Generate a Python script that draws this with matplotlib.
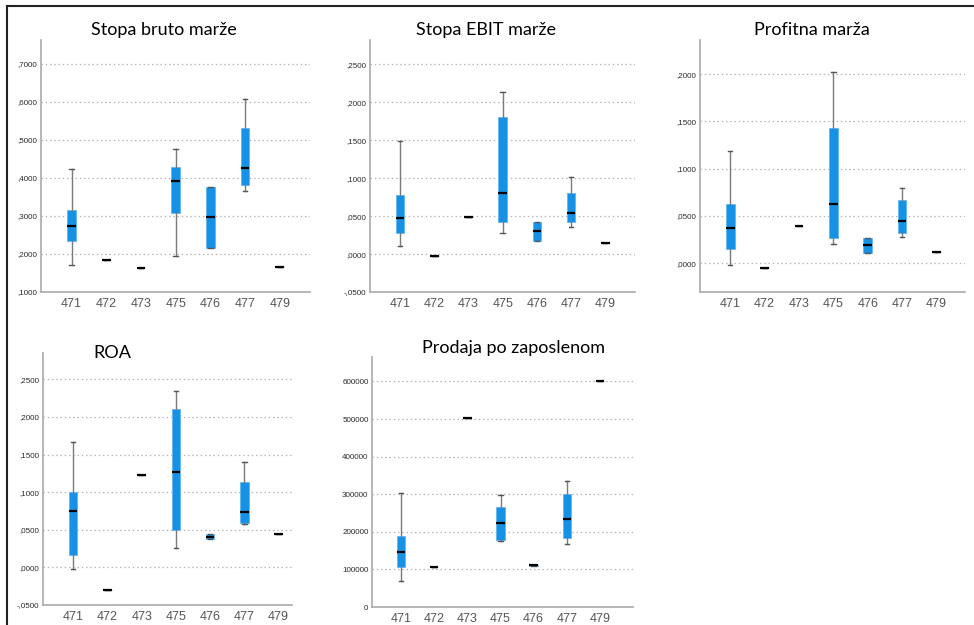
import matplotlib
matplotlib.use("Agg")
import matplotlib.pyplot as plt
from matplotlib.lines import Line2D

W, H = 974, 625

categories = ["471", "472", "473", "475", "476", "477", "479"]

# five-number summaries per category: (whisker low, Q1, median, Q3, whisker high)
bruto = [
    (0.172, 0.235, 0.274, 0.316, 0.423),
    (0.183, 0.183, 0.183, 0.183, 0.183),
    (0.163, 0.163, 0.163, 0.163, 0.163),
    (0.194, 0.309, 0.391, 0.428, 0.476),
    (0.217, 0.217, 0.297, 0.376, 0.376),
    (0.365, 0.381, 0.426, 0.532, 0.609),
    (0.167, 0.167, 0.167, 0.167, 0.167),
]
ebit = [
    (0.0105, 0.0281, 0.0479, 0.0782, 0.1485),
    (-0.0030, -0.0030, -0.0030, -0.0030, -0.0030),
    (0.0488, 0.0488, 0.0488, 0.0488, 0.0488),
    (0.0281, 0.0418, 0.0800, 0.1810, 0.2139),
    (0.0176, 0.0176, 0.0299, 0.0418, 0.0418),
    (0.0360, 0.0426, 0.0537, 0.0800, 0.1015),
    (0.0146, 0.0146, 0.0146, 0.0146, 0.0146),
]
profit = [
    (-0.0018, 0.0148, 0.0370, 0.0623, 0.1190),
    (-0.0050, -0.0050, -0.0050, -0.0050, -0.0050),
    (0.0390, 0.0390, 0.0390, 0.0390, 0.0390),
    (0.0207, 0.0270, 0.0630, 0.1432, 0.2024),
    (0.0112, 0.0112, 0.0193, 0.0270, 0.0270),
    (0.0278, 0.0317, 0.0447, 0.0665, 0.0799),
    (0.0116, 0.0116, 0.0116, 0.0116, 0.0116),
]
roa = [
    (-0.0019, 0.0168, 0.0754, 0.1007, 0.1664),
    (-0.0302, -0.0302, -0.0302, -0.0302, -0.0302),
    (0.1229, 0.1229, 0.1229, 0.1229, 0.1229),
    (0.0257, 0.0497, 0.1269, 0.2103, 0.2350),
    (0.0373, 0.0373, 0.0408, 0.0448, 0.0448),
    (0.0580, 0.0586, 0.0736, 0.1131, 0.1402),
    (0.0448, 0.0448, 0.0448, 0.0448, 0.0448),
]
prodaja = [
    (69000, 105600, 146000, 188800, 303000),
    (105600, 105600, 105600, 105600, 105600),
    (502000, 502000, 502000, 502000, 502000),
    (176600, 179000, 223500, 267000, 299000),
    (108000, 108000, 111000, 113000, 113000),
    (167600, 183500, 233000, 299700, 336000),
    (600000, 600000, 600000, 600000, 600000),
]

BLUE = "#1591e6"


def spss_label(v):
    s = f"{v:.4f}"
    return s.replace("-0.", "-,").replace("0.", ",")


# title, data, pixel box (left, right, top, bottom), ylim, yticks, xlim right, title pos
panels = [
    ("Stopa bruto marže", bruto, (41, 310, 40, 292), (0.1, 0.763),
     [0.1, 0.2, 0.3, 0.4, 0.5, 0.6, 0.7], 6.87, (164, 30)),
    ("Stopa EBIT marže", ebit, (370, 635, 40, 292), (-0.05, 0.282),
     [-0.05, 0.0, 0.05, 0.1, 0.15, 0.2, 0.25], 6.87, (486, 30)),
    ("Profitna marža", profit, (700, 965, 40, 292), (-0.0303, 0.236),
     [0.0, 0.05, 0.1, 0.15, 0.2], 6.83, (812, 30)),
    ("ROA", roa, (43, 292, 353, 605), (-0.05, 0.285),
     [-0.05, 0.0, 0.05, 0.1, 0.15, 0.2, 0.25], 6.39, (112, 353)),
    ("Prodaja po zaposlenom", prodaja, (372, 633, 357, 607), (0, 665000),
     [0, 100000, 200000, 300000, 400000, 500000, 600000], 7.0, (514, 348)),
]

fig = plt.figure(figsize=(W / 100, H / 100), dpi=100)
fig.patch.set_facecolor("white")

for title, data, (l, r, t, b), ylim, yticks, xr, (tx, ty) in panels:
    ax = fig.add_axes([l / W, 1 - b / H, (r - l) / W, (b - t) / H])
    stats = []
    for cat, (lo, q1, med, q3, hi) in zip(categories, data):
        stats.append({"label": cat, "whislo": lo, "q1": q1, "med": med,
                      "q3": q3, "whishi": hi, "fliers": []})
    ax.bxp(stats, positions=range(len(categories)), widths=0.25,
           capwidths=0.13, patch_artist=True, showfliers=False,
           boxprops=dict(facecolor=BLUE, edgecolor="#6ab8f2", linewidth=0.7),
           medianprops=dict(color="black", linewidth=1.6),
           whiskerprops=dict(color="#7a7a7a", linewidth=1.0),
           capprops=dict(color="#555555", linewidth=1.0))
    ax.set_xlim(-0.88, xr)
    ax.set_ylim(*ylim)
    ax.set_yticks(yticks)
    if title == "Prodaja po zaposlenom":
        ax.set_yticklabels([str(v) for v in yticks])
    else:
        ax.set_yticklabels([spss_label(v) for v in yticks])
    ax.set_xticks(range(len(categories)))
    ax.set_xticklabels(categories)
    ax.tick_params(axis="y", length=0, pad=2.5, labelsize=5.8, labelcolor="#2a2a2a")
    ax.tick_params(axis="x", length=0, pad=4, labelsize=9, labelcolor="#555555")
    for lab in ax.get_xticklabels() + ax.get_yticklabels():
        lab.set_fontfamily("Liberation Sans")
    ax.yaxis.grid(True, linestyle=(0, (1.2, 2.2)), color="#b5b5b5", linewidth=0.9)
    ax.set_axisbelow(True)
    for side in ("top", "right"):
        ax.spines[side].set_visible(False)
    for side in ("left", "bottom"):
        ax.spines[side].set_color("#aaaaaa")
        ax.spines[side].set_linewidth(1.2)
    fig.text(tx / W, 1 - ty / H, title, ha="center", va="center",
             fontsize=13, family="Lato", color="black")

# frame lines of the screenshot
fig.add_artist(Line2D([7 / W, 1], [1 - 6 / H, 1 - 6 / H], color="#222222", linewidth=1.5))
fig.add_artist(Line2D([7 / W, 7 / W], [0, 1 - 6 / H], color="#222222", linewidth=1.5))

fig.savefig("out.png", dpi=100)
